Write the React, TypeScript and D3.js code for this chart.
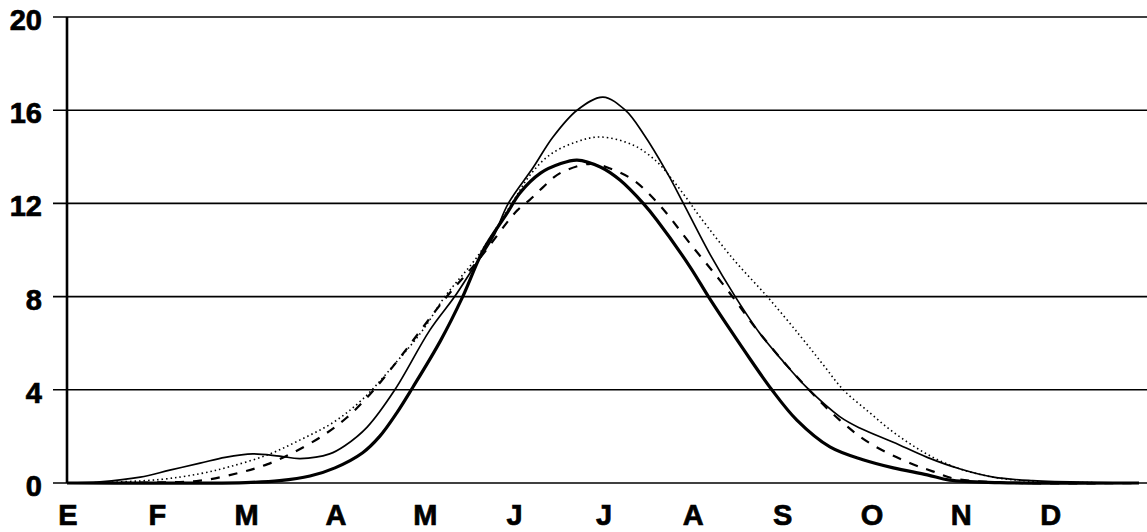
import React from "react";
import * as d3 from "d3";

const W = 1147;
const H = 532;

const months = ["E", "F", "M", "A", "M", "J", "J", "A", "S", "O", "N", "D"];
const yTicks = [0, 4, 8, 12, 16, 20];

// [month position, value]
const serieThin: [number, number][] = [
  [0, 0], [0.37, 0.05], [0.82, 0.25], [1.15, 0.55], [1.49, 0.85], [1.77, 1.1],
  [2.08, 1.25], [2.38, 1.15], [2.61, 1.05], [2.94, 1.25], [3.11, 1.6], [3.36, 2.4],
  [3.67, 4.0], [4.06, 6.55], [4.34, 8.0], [4.51, 9.0], [4.77, 10.55], [4.94, 12.0],
  [5.22, 13.55], [5.44, 14.85], [5.71, 16.0], [6.0, 16.56], [6.25, 16.0], [6.45, 15.0],
  [6.72, 13.3], [6.9, 12.0], [7.2, 9.8], [7.48, 8.0], [7.76, 6.4], [8.02, 5.2],
  [8.28, 4.1], [8.65, 2.85], [8.88, 2.35], [9.25, 1.75], [9.63, 1.1], [10.0, 0.6],
  [10.37, 0.25], [10.81, 0.1], [11.56, 0.02], [12, 0],
];

const serieDotted: [number, number][] = [
  [0, 0], [0.37, 0.02], [1.04, 0.15], [1.49, 0.4], [1.82, 0.7], [2.24, 1.2],
  [2.61, 1.85], [2.98, 2.6], [3.31, 3.6], [3.69, 5.2], [3.99, 6.6], [4.23, 8.0],
  [4.59, 9.7], [4.98, 12.0], [5.18, 13.2], [5.41, 14.1], [5.71, 14.65], [5.97, 14.85],
  [6.34, 14.5], [6.6, 13.8], [6.78, 13.0], [6.94, 12.2], [7.09, 11.4], [7.46, 9.6],
  [7.85, 7.95], [8.21, 6.3], [8.46, 5.1], [8.69, 4.0], [8.96, 3.1], [9.21, 2.3],
  [9.47, 1.6], [9.72, 1.05], [10.0, 0.6], [10.37, 0.25], [10.78, 0.08], [11.56, 0.01], [12, 0],
];

const serieThick: [number, number][] = [
  [0, 0], [2.0, 0.02], [2.38, 0.1], [2.72, 0.3], [3.0, 0.65], [3.31, 1.3],
  [3.5, 2.0], [3.69, 3.0], [3.87, 4.1], [4.18, 6.1], [4.43, 8.0], [4.66, 10.0],
  [4.93, 11.6], [5.07, 12.45], [5.3, 13.3], [5.52, 13.7], [5.71, 13.86], [5.97, 13.56],
  [6.19, 13.0], [6.45, 12.0], [6.6, 11.3], [6.97, 9.3], [7.18, 8.0], [7.42, 6.6],
  [7.65, 5.3], [7.89, 4.0], [8.17, 2.7], [8.54, 1.55], [8.91, 1.0], [9.25, 0.65],
  [9.63, 0.35], [9.88, 0.12], [10.44, 0.02], [12, 0],
];

const serieDashed: [number, number][] = [
  [0, 0], [0.93, 0.02], [1.49, 0.1], [1.94, 0.45], [2.24, 0.8], [2.53, 1.3],
  [2.87, 2.05], [3.13, 2.8], [3.39, 3.8], [3.69, 5.2], [4.23, 7.9], [4.59, 9.5],
  [5.04, 11.7], [5.18, 12.15], [5.33, 12.7], [5.52, 13.3], [5.86, 13.7], [6.08, 13.5],
  [6.34, 13.0], [6.64, 11.9], [6.97, 10.3], [7.37, 8.4], [7.76, 6.4], [8.28, 4.1],
  [8.65, 2.7], [8.99, 1.7], [9.44, 0.85], [9.69, 0.5], [9.92, 0.2], [10.44, 0.02], [12, 0],
];

const x = d3.scaleLinear().domain([0, 12]).range([67, 1139]);
const y = d3.scaleLinear().domain([0, 20]).range([483, 17]);

const line = d3
  .line<[number, number]>()
  .x((d) => x(d[0]))
  .y((d) => Math.min(y(0), y(d[1])))
  .curve(d3.curveCatmullRom.alpha(0.5));

const font = "'Liberation Sans', Arial, Helvetica, sans-serif";

export default function App() {
  return (
    <svg
      width={W}
      height={H}
      viewBox={`0 0 ${W} ${H}`}
      style={{ position: "absolute", left: 0, top: 0, background: "#fff" }}
    >
      <rect x={0} y={0} width={W} height={H} fill="#fff" />
      {yTicks.map((t) => (
        <g key={t}>
          <line x1={53} x2={W} y1={y(t)} y2={y(t)} stroke="#000" strokeWidth={1.6} />
          <text
            x={42}
            y={y(t) + 3}
            textAnchor="end"
            dominantBaseline="central"
            fontFamily={font}
            fontWeight="bold"
            fontSize={29}
            fill="#000"
            stroke="#000"
            strokeWidth={0.7}
          >
            {t}
          </text>
        </g>
      ))}
      <line x1={x(0)} x2={x(0)} y1={y(20)} y2={y(0)} stroke="#000" strokeWidth={2.6} />
      {months.map((m, i) => (
        <text
          key={i}
          x={x(i) + 1}
          y={515}
          textAnchor="middle"
          dominantBaseline="central"
          fontFamily={font}
          fontWeight="bold"
          fontSize={29}
          fill="#000"
          stroke="#000"
          strokeWidth={0.7}
        >
          {m}
        </text>
      ))}
      <path d={line(serieDotted) || ""} fill="none" stroke="#000" strokeWidth={1.6} strokeDasharray="1.5,3" />
      <path d={line(serieDashed) || ""} fill="none" stroke="#000" strokeWidth={2.2} strokeDasharray="9,9" />
      <path d={line(serieThin) || ""} fill="none" stroke="#000" strokeWidth={1.7} />
      <path d={line(serieThick) || ""} fill="none" stroke="#000" strokeWidth={3.2} />
    </svg>
  );
}
